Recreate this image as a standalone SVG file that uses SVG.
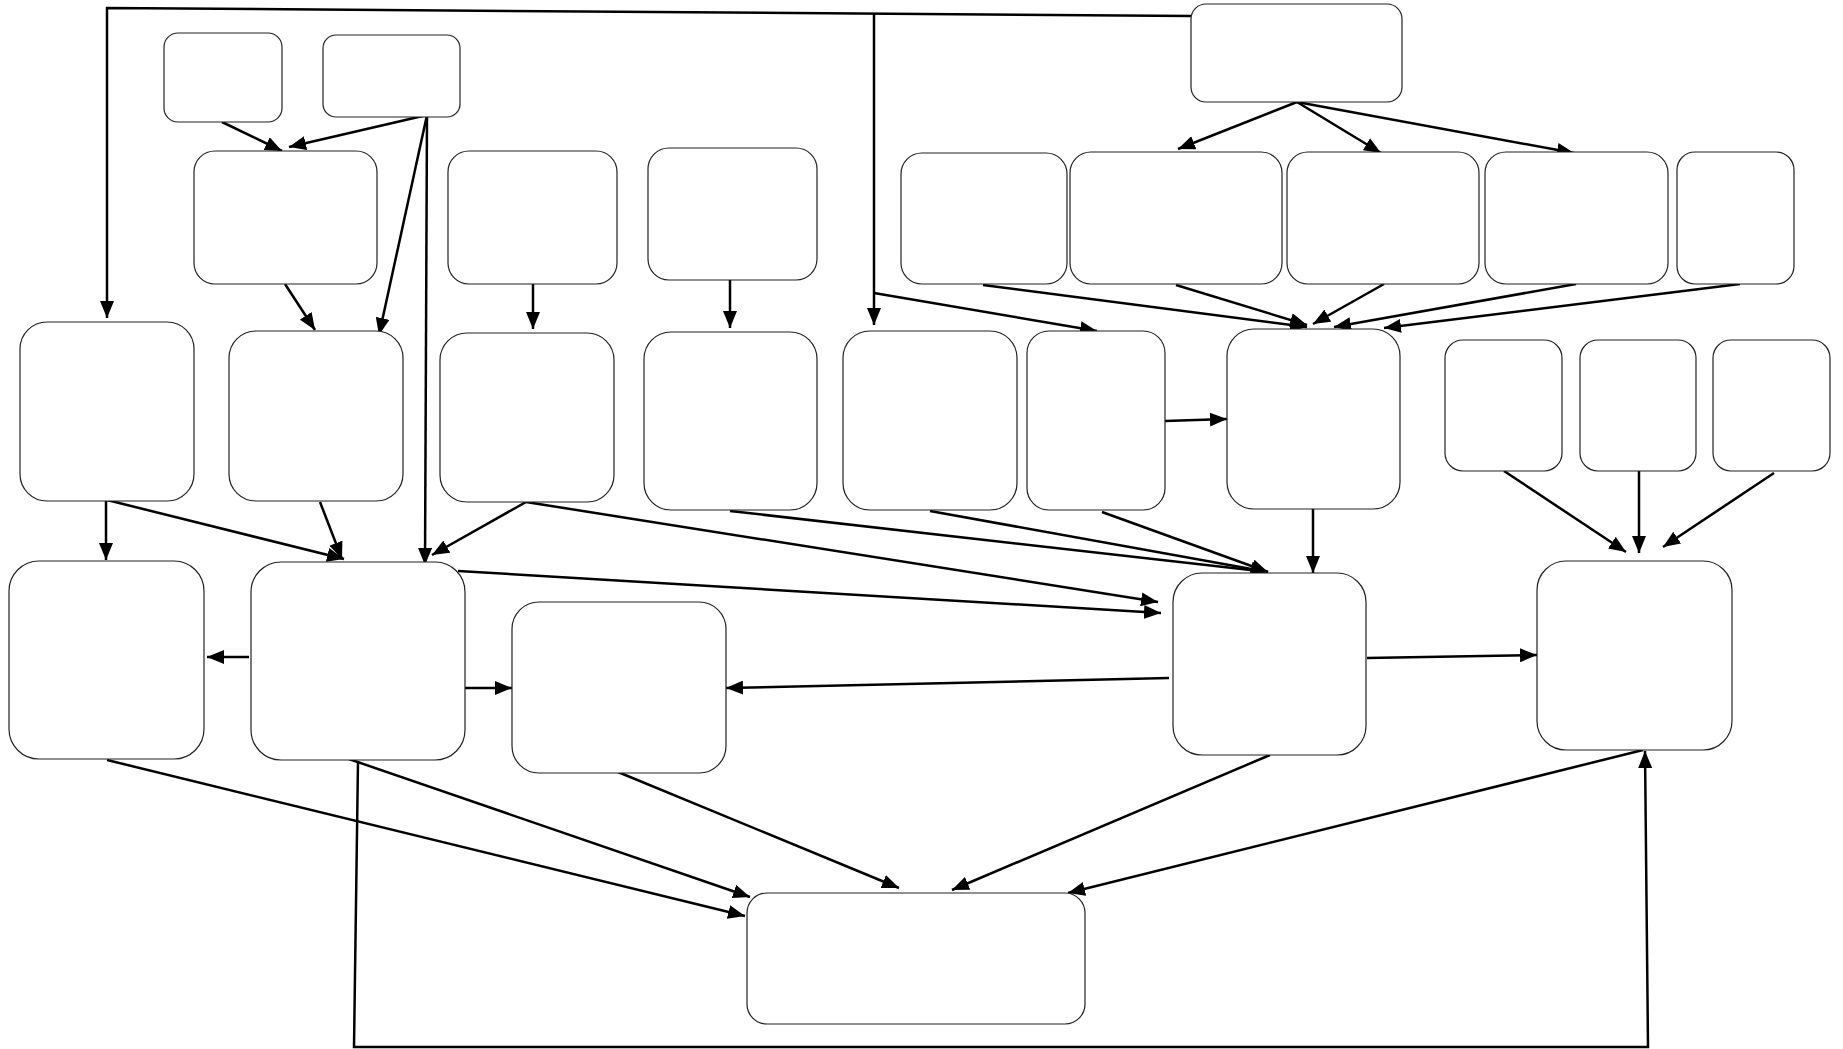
<svg xmlns="http://www.w3.org/2000/svg" width="1843" height="1049" viewBox="0 0 1843 1049">
<defs>
<marker id="arr" markerWidth="17" markerHeight="14" refX="17" refY="7" orient="auto" markerUnits="userSpaceOnUse">
<path d="M0,0 L17,7 L0,14 z" fill="#000"/>
</marker>
</defs>
<style>
.node rect{fill:#fff;stroke:#222;stroke-width:1.2}
.edge{fill:none;stroke:#000;stroke-width:2.5;marker-end:url(#arr)}
</style>
<rect width="1843" height="1049" fill="#fff"/>
<g id="connectors">
<polyline class="edge" points="1191,16 107,8 107,318"/>
<line class="edge" x1="874" y1="14" x2="874" y2="325"/>
<line class="edge" x1="874" y1="293" x2="1097" y2="331"/>
<line class="edge" x1="222" y1="122" x2="282" y2="151"/>
<line class="edge" x1="427" y1="115" x2="289" y2="147"/>
<line class="edge" x1="427" y1="115" x2="379" y2="335"/>
<line class="edge" x1="427" y1="114" x2="425" y2="565"/>
<line class="edge" x1="285" y1="284" x2="315" y2="330"/>
<line class="edge" x1="533" y1="284" x2="533" y2="329"/>
<line class="edge" x1="730" y1="280" x2="730" y2="328"/>
<line class="edge" x1="1297" y1="102" x2="1178" y2="149"/>
<line class="edge" x1="1297" y1="102" x2="1381" y2="153"/>
<line class="edge" x1="1297" y1="102" x2="1574" y2="153"/>
<line class="edge" x1="983" y1="285" x2="1307" y2="327"/>
<line class="edge" x1="1176" y1="285" x2="1307" y2="325"/>
<line class="edge" x1="1384" y1="284" x2="1313" y2="324"/>
<line class="edge" x1="1576" y1="284" x2="1334" y2="327"/>
<line class="edge" x1="1740" y1="284" x2="1384" y2="328"/>
<line class="edge" x1="1165" y1="421" x2="1227" y2="419"/>
<line class="edge" x1="1313" y1="509" x2="1313" y2="573"/>
<line class="edge" x1="1504" y1="471" x2="1626" y2="552"/>
<line class="edge" x1="1639" y1="471" x2="1639" y2="553"/>
<line class="edge" x1="1774" y1="473" x2="1663" y2="547"/>
<line class="edge" x1="106" y1="501" x2="106" y2="560"/>
<line class="edge" x1="107" y1="500" x2="344" y2="559"/>
<line class="edge" x1="320" y1="502" x2="342" y2="559"/>
<line class="edge" x1="526" y1="502" x2="432" y2="555"/>
<line class="edge" x1="526" y1="502" x2="1158" y2="602"/>
<line class="edge" x1="730" y1="511" x2="1268" y2="572"/>
<line class="edge" x1="930" y1="511" x2="1268" y2="572"/>
<line class="edge" x1="1102" y1="512" x2="1268" y2="572"/>
<line class="edge" x1="458" y1="571" x2="1161" y2="613"/>
<line class="edge" x1="249" y1="657" x2="207" y2="657"/>
<line class="edge" x1="465" y1="688" x2="512" y2="688"/>
<line class="edge" x1="1169" y1="678" x2="726" y2="688"/>
<line class="edge" x1="1367" y1="658" x2="1537" y2="655"/>
<line class="edge" x1="107" y1="760" x2="745" y2="916"/>
<line class="edge" x1="346" y1="758" x2="750" y2="897"/>
<polyline class="edge" points="358,761 354,1047 1648,1047 1645,751"/>
<line class="edge" x1="618" y1="772" x2="899" y2="888"/>
<line class="edge" x1="1270" y1="755" x2="952" y2="890"/>
<line class="edge" x1="1643" y1="750" x2="1068" y2="893"/>
</g>
<g id="n1" class="node"><rect x="164" y="33" width="118" height="89" rx="14"/></g>
<g id="n2" class="node"><rect x="323" y="35" width="137" height="82" rx="13"/></g>
<g id="n3" class="node"><rect x="1191" y="4" width="211" height="98" rx="15"/></g>
<g id="n4" class="node"><rect x="194" y="151" width="183" height="133" rx="21"/></g>
<g id="n5" class="node"><rect x="448" y="151" width="169" height="133" rx="21"/></g>
<g id="n6" class="node"><rect x="648" y="148" width="169" height="132" rx="21"/></g>
<g id="n7" class="node"><rect x="901" y="153" width="166" height="131" rx="21"/></g>
<g id="n8" class="node"><rect x="1070" y="152" width="212" height="132" rx="21"/></g>
<g id="n9" class="node"><rect x="1287" y="152" width="192" height="132" rx="21"/></g>
<g id="n10" class="node"><rect x="1485" y="152" width="183" height="132" rx="21"/></g>
<g id="n11" class="node"><rect x="1677" y="152" width="117" height="132" rx="18"/></g>
<g id="n12" class="node"><rect x="20" y="322" width="174" height="179" rx="27"/></g>
<g id="n13" class="node"><rect x="229" y="331" width="174" height="170" rx="27"/></g>
<g id="n14" class="node"><rect x="440" y="333" width="174" height="169" rx="27"/></g>
<g id="n15" class="node"><rect x="644" y="332" width="173" height="178" rx="27"/></g>
<g id="n16" class="node"><rect x="843" y="331" width="174" height="179" rx="27"/></g>
<g id="n17" class="node"><rect x="1027" y="331" width="138" height="179" rx="22"/></g>
<g id="n18" class="node"><rect x="1227" y="329" width="173" height="180" rx="27"/></g>
<g id="n19" class="node"><rect x="1445" y="340" width="117" height="131" rx="18"/></g>
<g id="n20" class="node"><rect x="1580" y="340" width="116" height="131" rx="18"/></g>
<g id="n21" class="node"><rect x="1713" y="340" width="117" height="131" rx="18"/></g>
<g id="n22" class="node"><rect x="9" y="561" width="195" height="198" rx="30"/></g>
<g id="n23" class="node"><rect x="251" y="562" width="214" height="198" rx="30"/></g>
<g id="n24" class="node"><rect x="512" y="602" width="214" height="171" rx="27"/></g>
<g id="n25" class="node"><rect x="1173" y="573" width="193" height="182" rx="29"/></g>
<g id="n26" class="node"><rect x="1537" y="561" width="195" height="189" rx="29"/></g>
<g id="n27" class="node"><rect x="747" y="893" width="338" height="131" rx="20"/></g>
</svg>
